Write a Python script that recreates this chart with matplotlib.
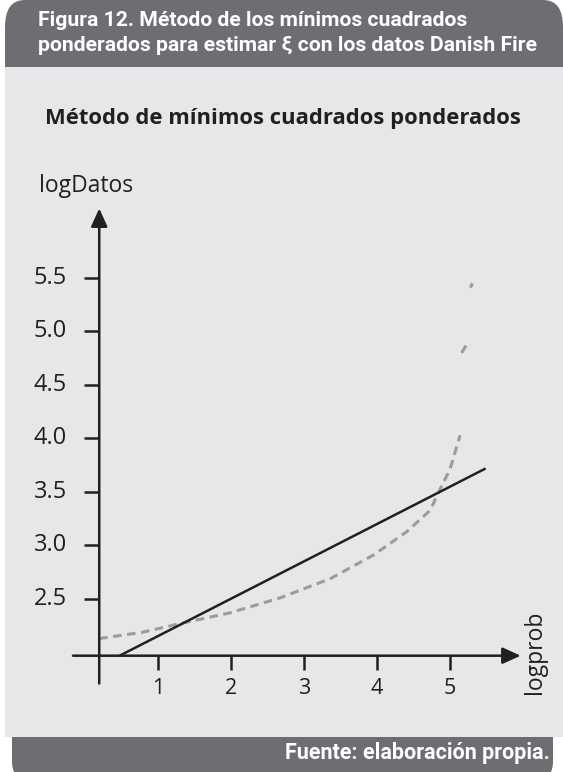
import numpy as np
import matplotlib
matplotlib.use("Agg")
import matplotlib.pyplot as plt
from matplotlib.patches import Rectangle, FancyBboxPatch

# data
line_x = [0.47, 5.49]
line_y = [1.97, 3.72]

nan = np.nan
curve_x = [0.19, 0.79, 1.30, 1.98, 2.67, 3.36, 3.95, 4.41, 4.73, 4.86, 5.00, 5.14,
           nan, 5.16, 5.25, nan, 5.28, 5.31]
curve_y = [2.13, 2.19, 2.27, 2.37, 2.51, 2.69, 2.91, 3.13, 3.33, 3.52, 3.71, 4.03,
           nan, 4.80, 4.90, nan, 5.41, 5.45]

xticks = [1, 2, 3, 4, 5]
yticks = [2.5, 3.0, 3.5, 4.0, 4.5, 5.0, 5.5]
ytick_labels = ["2.5", "3.0", "3.5", "4.0", "4.5", "5.0", "5.5"]

title = "Método de mínimos cuadrados ponderados"
header = "Figura 12. Método de los mínimos cuadrados\nponderados para estimar ξ con los datos Danish Fire"
source = "Fuente: elaboración propia."

W, H = 563, 772
dark = "#6d6e71"
light = "#e6e7e9"
ink = "#231f20"
dash_col = "#9b9c9e"
narrow = ["Roboto", "DejaVu Sans"]
plt.rcParams["font.family"] = ["Open Sans", "DejaVu Sans"]

fig = plt.figure(figsize=(W / 100, H / 100), dpi=100)
fig.patch.set_facecolor("white")


def fx(px):
    return px / W


def fy(py):
    return 1 - py / H


# header tab, body, footer tab
fig.add_artist(FancyBboxPatch((fx(5), fy(110)), fx(558), 110 / H,
                              boxstyle="round,pad=0,rounding_size=0.035",
                              transform=fig.transFigure, fc=dark, ec="none", zorder=-2))
fig.add_artist(FancyBboxPatch((fx(12), fy(777)), fx(541), 60 / H,
                              boxstyle="round,pad=0,rounding_size=0.02",
                              transform=fig.transFigure, fc=dark, ec="none", zorder=-2))
fig.add_artist(Rectangle((fx(5), fy(737)), fx(558), 670 / H,
                         transform=fig.transFigure, fc=light, ec="none", zorder=-1))

fig.text(fx(38), fy(33), header, color="white", fontsize=15.2, fontweight="bold",
         family=narrow, ha="left", va="center", linespacing=1.4)
fig.text(fx(550), fy(753), source, color="white", fontsize=15.5, fontweight="bold",
         family=narrow, ha="right", va="center")

ax = fig.add_axes([0, 0, 1, 1])
ax.set_zorder(2)
ax.set_facecolor("none")
ax.set_xlim(-1.171, 6.551)
ax.set_ylim(0.883, 8.098)
ax.axis("off")

# axes drawn by hand with arrows
arrow = dict(arrowstyle="-|>,head_length=0.55,head_width=0.25", color=ink, lw=1.8,
             shrinkA=0, shrinkB=0, mutation_scale=20)
ax.annotate("", xy=(5.97, 1.97), xytext=(-0.17, 1.97), arrowprops=arrow)
ax.annotate("", xy=(0.19, 6.15), xytext=(0.19, 1.71), arrowprops=arrow)

for t in xticks:
    ax.plot([t, t], [1.97, 1.836], color=ink, lw=1.8, solid_capstyle="butt")
    ax.text(t, 1.66, str(t), ha="center", va="center", fontsize=15.5, color=ink)
for t, lab in zip(yticks, ytick_labels):
    ax.plot([-0.02, 0.19], [t, t], color=ink, lw=1.8, solid_capstyle="butt")
    ax.text(-0.25, t, lab, ha="right", va="center", fontsize=17, color=ink)

ax.plot(curve_x, curve_y, color=dash_col, lw=2.2, dashes=(2.8, 1.8))
ax.plot(line_x, line_y, color=ink, lw=1.8, solid_capstyle="butt")

ax.text(fx(283) * 7.722 - 1.171, 2.5 + (599 - 119) / 107, title, ha="center",
        va="center", fontsize=15.8, fontweight="bold", color=ink)
ax.text(-0.63, 2.5 + (599 - 186) / 107, "logDatos", ha="left", va="center",
        fontsize=16.5, color=ink)
ax.text(6.17, 2.0, "logprob", ha="center", va="center", rotation=90,
        fontsize=16.5, color=ink)

fig.savefig("out.png", dpi=100)
